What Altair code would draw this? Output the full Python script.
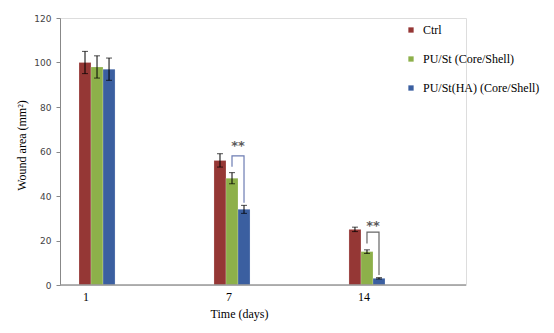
import altair as alt
import pandas as pd

days = ["1", "7", "14"]
groups = ["Ctrl", "PU/St (Core/Shell)", "PU/St(HA) (Core/Shell)"]
colors = ["#953735", "#8db04a", "#3b5fa0"]

ctrl = [100, 56, 25]
ctrl_err = [5, 3, 1]
pust = [98, 48, 15]
pust_err = [5, 2.5, 0.8]
pusha = [97, 34, 3]
pusha_err = [5, 1.8, 0.3]

# significance brackets: (day, left-leg bottom, top, right-leg bottom, color, star height)
br_days = ["7", "14"]
br_left = [53.2, 18.7]
br_top = [58, 23.8]
br_right = [37, 4.5]
br_colors = ["#6c7cb3", "#666666"]
star_y = [62.5, 26.5]

rows = []
for vals, errs, g in [(ctrl, ctrl_err, groups[0]), (pust, pust_err, groups[1]), (pusha, pusha_err, groups[2])]:
    for d, v, e in zip(days, vals, errs):
        rows.append({"day": d, "group": g, "value": v, "lo": v - e, "hi": v + e})
df = pd.DataFrame(rows)

brows = []
for i, d in enumerate(br_days):
    brows += [
        {"day": d, "group": groups[1], "y": br_left[i], "o": 0, "bid": i, "col": br_colors[i]},
        {"day": d, "group": groups[1], "y": br_top[i], "o": 1, "bid": i, "col": br_colors[i]},
        {"day": d, "group": groups[2], "y": br_top[i], "o": 2, "bid": i, "col": br_colors[i]},
        {"day": d, "group": groups[2], "y": br_right[i], "o": 3, "bid": i, "col": br_colors[i]},
    ]
bdf = pd.DataFrame(brows)
sdf = pd.DataFrame({"day": br_days, "group": [groups[1]] * 2, "y": star_y, "txt": ["**", "**"]})

W, H = 406, 267
serif = "Liberation Serif"

xscale = alt.Scale(domain=days, range=[-30.5, 374.5], paddingInner=0.733, paddingOuter=0.3667)
xenc = alt.X(
    "day:N",
    scale=xscale,
    sort=days,
    axis=alt.Axis(
        title="Time (days)",
        titleFont=serif, titleFontSize=12, titleFontWeight="normal", titleColor="black",
        titleX=179, titleY=28, titleBaseline="middle", titleAnchor="start", titleAlign="center",
        labelFont=serif, labelFontSize=12, labelColor="black", labelAngle=0,
        labelPadding=6, tickSize=0, domain=False,
        labelOffset={"condition": {"test": "datum.value == '1'", "value": -11}, "value": -3},
    ),
)
xoff = alt.XOffset("group:N", scale=alt.Scale(domain=groups, paddingInner=0, paddingOuter=0))
yscale = alt.Scale(domain=[0, 120], nice=False)
yenc = alt.Y(
    "value:Q",
    scale=yscale,
    axis=alt.Axis(
        values=[0, 20, 40, 60, 80, 100, 120],
        title="Wound area (mm²)",
        titleFont=serif, titleFontSize=12, titleFontWeight="normal", titleColor="black",
        titleX=-39, titleY=127, titleAngle=-90, titleBaseline="middle", titleAlign="center",
        labelFont="DejaVu Sans", labelFontSize=9, labelColor="#444444",
        tickSize=4, tickColor="#888888", domainColor="#888888", labelPadding=5,
        grid=False,
    ),
)

bars = alt.Chart(df).mark_bar(stroke="white", strokeOpacity=0.35, strokeWidth=0.6).encode(
    x=xenc,
    xOffset=xoff,
    y=yenc,
    color=alt.Color(
        "group:N",
        scale=alt.Scale(domain=groups, range=colors),
        legend=alt.Legend(
            title=None, orient="none", legendX=345, legendY=6,
            symbolType="square", symbolSize=28, symbolStrokeWidth=0,
            labelFont=serif, labelFontSize=12, labelColor="black",
            rowPadding=17, labelOffset=6,
        ),
    ),
)

err = alt.Chart(df).mark_rule(color="black", strokeWidth=1).encode(
    x=alt.X("day:N", sort=days), xOffset=xoff, y="lo:Q", y2="hi:Q"
)
cap_lo = alt.Chart(df).mark_tick(color="black", size=6, thickness=1).encode(
    x=alt.X("day:N", sort=days), xOffset=xoff, y="lo:Q"
)
cap_hi = alt.Chart(df).mark_tick(color="black", size=6, thickness=1).encode(
    x=alt.X("day:N", sort=days), xOffset=xoff, y="hi:Q"
)

brackets = alt.Chart(bdf).mark_line(strokeWidth=1.2).encode(
    x=alt.X("day:N", sort=days),
    xOffset=xoff,
    y="y:Q",
    detail="bid:N",
    order="o:Q",
    stroke=alt.Stroke("col:N", scale=None),
)

stars = alt.Chart(sdf).mark_text(
    font="DejaVu Sans", fontSize=13, fontWeight="bold", fill="#5a5a5a", dx=6, baseline="middle"
).encode(x=alt.X("day:N", sort=days), xOffset=xoff, y="y:Q", text="txt:N")

baseline = alt.Chart(pd.DataFrame({"v": [0]})).mark_rule(color="#999999", strokeWidth=1.5).encode(
    y=alt.Y("v:Q"), x=alt.value(0), x2=alt.value(W)
)

chart = (
    alt.layer(bars, err, cap_lo, cap_hi, brackets, stars, baseline)
    .properties(
        width=W,
        height=H,
        autosize=alt.AutoSizeParams(type="none"),
        padding={"left": 60, "top": 18, "right": 88, "bottom": 48},
    )
    .configure_view(stroke=None)
    .configure(background="white")
)

chart.save("out.html", embed_options={"renderer": "svg", "actions": False})
